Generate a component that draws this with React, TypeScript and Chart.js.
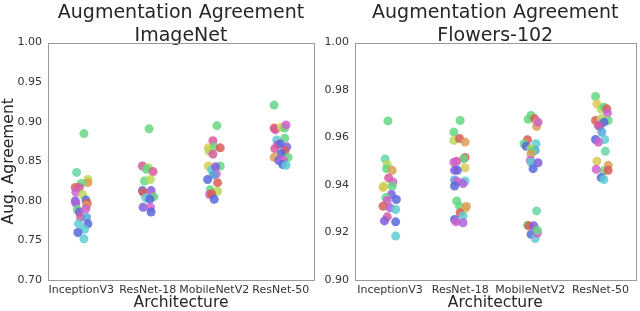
import React, { useEffect, useRef } from "react";
import { Chart, registerables } from "chart.js";

Chart.register(...registerables);

// ---------- data ----------
const architectures = ["InceptionV3", "ResNet-18", "MobileNetV2", "ResNet-50"];

// colour keys -> hue palette
const palette: Record<string, string> = {
  R: "hsla(3,65%,60%,0.85)",
  O: "hsla(32,65%,60%,0.85)",
  Y: "hsla(52,65%,60%,0.85)",
  YG: "hsla(75,62%,60%,0.85)",
  G: "hsla(135,58%,62%,0.85)",
  CG: "hsla(155,58%,62%,0.85)",
  C: "hsla(184,58%,60%,0.85)",
  SB: "hsla(205,65%,60%,0.85)",
  B: "hsla(232,65%,60%,0.85)",
  V: "hsla(255,65%,62%,0.85)",
  P: "hsla(278,62%,62%,0.85)",
  M: "hsla(302,55%,60%,0.85)",
  PK: "hsla(328,60%,60%,0.85)",
};

// [agreement, jitter, colour]
type Pt = [number, number, string];

const imagenetInceptionV3: Pt[] = [
  [0.885, 0.04, "G"], [0.836, -0.07, "CG"], [0.827, 0.1, "YG"], [0.823, 0.1, "O"],
  [0.822, 0.0, "G"], [0.817, -0.09, "R"], [0.817, -0.03, "PK"], [0.811, -0.08, "M"],
  [0.808, 0.02, "YG"], [0.8, -0.09, "V"], [0.797, -0.08, "P"], [0.801, 0.07, "B"],
  [0.797, 0.09, "R"], [0.794, 0.08, "O"], [0.789, -0.06, "G"], [0.786, -0.03, "V"],
  [0.79, 0.07, "M"], [0.779, -0.01, "PK"], [0.779, 0.08, "SB"], [0.771, -0.04, "C"],
  [0.771, 0.1, "B"], [0.764, 0.05, "C"], [0.76, -0.05, "B"], [0.752, 0.04, "C"],
];
const imagenetResNet18: Pt[] = [
  [0.891, 0.02, "G"], [0.844, -0.08, "PK"], [0.842, 0.01, "YG"], [0.84, -0.02, "G"],
  [0.837, 0.08, "PK"], [0.825, -0.05, "G"], [0.827, 0.04, "YG"], [0.813, -0.08, "B"],
  [0.813, 0.05, "V"], [0.811, -0.07, "R"], [0.807, 0.06, "M"], [0.804, -0.03, "C"],
  [0.805, 0.09, "G"], [0.802, 0.03, "B"], [0.792, -0.07, "V"], [0.792, 0.04, "M"],
  [0.786, 0.05, "B"],
];
const imagenetMobileNetV2: Pt[] = [
  [0.895, 0.04, "G"], [0.876, -0.02, "PK"], [0.867, -0.09, "Y"], [0.868, 0.0, "G"],
  [0.867, 0.09, "R"], [0.863, -0.08, "YG"], [0.859, -0.02, "PK"], [0.844, -0.09, "Y"],
  [0.844, 0.09, "G"], [0.839, -0.04, "C"], [0.843, 0.02, "V"], [0.834, 0.03, "M"],
  [0.833, -0.01, "SB"], [0.827, -0.1, "B"], [0.823, 0.05, "R"], [0.814, -0.06, "G"],
  [0.812, 0.05, "YG"], [0.808, -0.07, "M"], [0.809, -0.04, "R"], [0.802, 0.0, "B"],
];
const imagenetResNet50: Pt[] = [
  [0.921, -0.1, "G"], [0.892, -0.1, "R"], [0.89, -0.08, "PK"], [0.893, 0.01, "Y"],
  [0.892, 0.06, "G"], [0.896, 0.08, "M"], [0.879, 0.06, "G"], [0.877, -0.06, "C"],
  [0.871, -0.05, "M"], [0.872, -0.01, "B"], [0.868, 0.09, "V"], [0.866, -0.09, "PK"],
  [0.863, 0.06, "R"], [0.86, 0.01, "B"], [0.855, -0.1, "O"], [0.855, 0.11, "G"],
  [0.851, -0.03, "V"], [0.851, 0.04, "M"], [0.846, 0.03, "B"], [0.845, 0.08, "C"],
];

const flowersInceptionV3: Pt[] = [
  [0.967, -0.03, "G"], [0.951, -0.07, "CG"], [0.9486, -0.04, "YG"], [0.9469, -0.05, "G"],
  [0.9462, 0.03, "O"], [0.943, -0.02, "PK"], [0.9413, 0.04, "M"], [0.9395, -0.09, "YG"],
  [0.939, -0.1, "Y"], [0.9395, 0.03, "G"], [0.936, 0.02, "V"], [0.9347, -0.06, "G"],
  [0.9339, 0.09, "B"], [0.9335, -0.04, "M"], [0.9311, -0.1, "R"], [0.9304, 0.0, "P"],
  [0.9297, 0.08, "C"], [0.9266, -0.04, "PK"], [0.9249, -0.08, "V"], [0.9245, 0.08, "B"],
  [0.9185, 0.08, "C"],
];
const flowersResNet18: Pt[] = [
  [0.9672, 0.0, "G"], [0.9623, -0.09, "G"], [0.9588, -0.09, "YG"], [0.9596, -0.01, "R"],
  [0.9581, 0.07, "O"], [0.9516, 0.07, "R"], [0.9511, 0.05, "G"], [0.95, -0.05, "PK"],
  [0.9496, -0.09, "M"], [0.9473, 0.07, "Y"], [0.9462, -0.04, "B"], [0.9462, -0.08, "V"],
  [0.9417, 0.07, "C"], [0.9421, -0.08, "SB"], [0.9415, -0.04, "M"], [0.9406, 0.04, "P"],
  [0.9396, -0.08, "B"], [0.9333, -0.05, "G"], [0.9311, -0.01, "G"], [0.93, 0.07, "Y"],
  [0.931, 0.09, "O"], [0.9283, 0.0, "R"], [0.927, 0.04, "C"], [0.9255, -0.08, "B"],
  [0.9245, -0.06, "M"], [0.9241, 0.04, "P"],
];
const flowersMobileNetV2: Pt[] = [
  [0.9693, 0.01, "G"], [0.9677, -0.03, "G"], [0.968, 0.06, "R"], [0.9663, 0.1, "YG"],
  [0.9647, 0.09, "O"], [0.9665, 0.11, "M"], [0.9591, -0.04, "R"], [0.9574, -0.09, "G"],
  [0.9574, 0.08, "C"], [0.9563, -0.06, "B"], [0.9553, 0.01, "YG"], [0.9546, 0.07, "SB"],
  [0.9543, 0.03, "G"], [0.953, 0.01, "O"], [0.9504, 0.0, "M"], [0.9496, 0.01, "C"],
  [0.9494, 0.11, "V"], [0.9469, 0.04, "B"], [0.9291, 0.09, "CG"], [0.9231, -0.04, "G"],
  [0.9228, -0.02, "R"], [0.9228, 0.05, "V"], [0.9192, 0.01, "B"], [0.9175, 0.07, "C"],
  [0.9197, 0.1, "M"], [0.921, 0.1, "G"],
];
const flowersResNet50: Pt[] = [
  [0.9773, -0.07, "G"], [0.9742, -0.05, "Y"], [0.972, 0.01, "YG"], [0.9728, 0.05, "G"],
  [0.9721, 0.09, "R"], [0.9703, 0.1, "M"], [0.9672, -0.07, "R"], [0.968, 0.01, "YG"],
  [0.9672, 0.11, "G"], [0.9665, 0.05, "B"], [0.9647, -0.01, "V"], [0.965, -0.03, "PK"],
  [0.9623, 0.02, "SB"], [0.9592, -0.07, "B"], [0.9592, 0.06, "C"], [0.958, -0.03, "M"],
  [0.9542, 0.07, "CG"], [0.95, -0.05, "Y"], [0.9483, 0.11, "O"], [0.946, 0.05, "G"],
  [0.9466, -0.06, "M"], [0.9462, 0.11, "R"], [0.9431, 0.01, "B"], [0.9423, 0.05, "C"],
];

const imagenetGroups = [imagenetInceptionV3, imagenetResNet18, imagenetMobileNetV2, imagenetResNet50];
const flowersGroups = [flowersInceptionV3, flowersResNet18, flowersMobileNetV2, flowersResNet50];

const imagenetYTicks = [0.7, 0.75, 0.8, 0.85, 0.9, 0.95, 1.0];
const flowersYTicks = [0.9, 0.92, 0.94, 0.96, 0.98, 1.0];

// ---------- chart ----------
const FONT = "'DejaVu Sans', sans-serif";

const framePlugin = {
  id: "frame",
  afterDraw(chart: any) {
    const { ctx, chartArea: a } = chart;
    ctx.save();
    ctx.strokeStyle = "#9a9a9a";
    ctx.lineWidth = 1;
    ctx.strokeRect(Math.round(a.left) + 0.5, Math.round(a.top) + 0.5, Math.round(a.right - a.left), Math.round(a.bottom - a.top));
    ctx.restore();
  },
};

function makeConfig(subtitle: string, groups: Pt[][], yTicks: number[], yTitle: string | null, yWidth: number, padRight: number) {
  const points: { x: number; y: number }[] = [];
  const colors: string[] = [];
  groups.forEach((g, i) =>
    g.forEach(([v, j, c]) => {
      points.push({ x: i + j, y: v });
      colors.push(palette[c]);
    })
  );
  return {
    type: "scatter" as const,
    data: {
      datasets: [
        {
          data: points,
          backgroundColor: colors,
          borderWidth: 0,
          pointRadius: 4.5,
          pointHoverRadius: 4.5,
        },
      ],
    },
    options: {
      animation: false as const,
      responsive: false,
      maintainAspectRatio: false,
      events: [],
      layout: { padding: { left: 0, right: padRight, top: 0, bottom: 0 } },
      plugins: {
        legend: { display: false },
        tooltip: { enabled: false },
        title: {
          display: true,
          fullSize: false,
          text: ["Augmentation Agreement", subtitle],
          color: "#262626",
          font: { family: FONT, size: 19, weight: "normal" as const, lineHeight: 1.2 },
          padding: { top: 2, bottom: -5 },
        },
      },
      scales: {
        x: {
          type: "linear" as const,
          min: -0.5,
          max: 3.5,
          afterBuildTicks: (s: any) => {
            s.ticks = architectures.map((_, i) => ({ value: i }));
          },
          afterFit: (s: any) => {
            s.height = 31;
          },
          grid: { display: false, drawTicks: false },
          border: { display: false },
          ticks: {
            autoSkip: false,
            maxRotation: 0,
            padding: 4,
            color: "#333",
            font: { family: FONT, size: 11 },
            callback: (v: any) => architectures[Math.round(v)] ?? "",
          },
          title: {
            display: true,
            text: "Architecture",
            color: "#262626",
            font: { family: FONT, size: 15.5 },
            padding: { top: 0, bottom: -1 },
          },
        },
        y: {
          type: "linear" as const,
          min: yTicks[0],
          max: yTicks[yTicks.length - 1],
          afterBuildTicks: (s: any) => {
            s.ticks = yTicks.map((v) => ({ value: v }));
          },
          afterFit: (s: any) => {
            s.width = yWidth;
          },
          grid: { display: false, drawTicks: false },
          border: { display: false },
          ticks: {
            padding: 6,
            color: "#333",
            font: { family: FONT, size: 11 },
            callback: (v: any) => Number(v).toFixed(2),
          },
          title: {
            display: !!yTitle,
            text: yTitle ?? "",
            color: "#262626",
            font: { family: FONT, size: 15.5 },
            padding: { top: 0, bottom: 2 },
          },
        },
      },
    },
    plugins: [framePlugin],
  };
}

function Panel(props: { config: any; left: number }) {
  const ref = useRef<HTMLCanvasElement>(null);
  useEffect(() => {
    if (!ref.current) return;
    const chart = new Chart(ref.current, props.config);
    return () => chart.destroy();
  }, []);
  return (
    <canvas
      ref={ref}
      width={320}
      height={311}
      style={{ position: "absolute", left: props.left, top: 0, width: 320, height: 311 }}
    />
  );
}

export default function App() {
  const leftCfg = makeConfig("ImageNet", imagenetGroups, imagenetYTicks, "Aug. Agreement", 48, 6);
  const rightCfg = makeConfig("Flowers-102", flowersGroups, flowersYTicks, null, 35, 3);
  return (
    <div style={{ position: "fixed", left: 0, top: 0, width: 640, height: 311, background: "#fff" }}>
      <Panel config={leftCfg} left={0} />
      <Panel config={rightCfg} left={320} />
    </div>
  );
}
